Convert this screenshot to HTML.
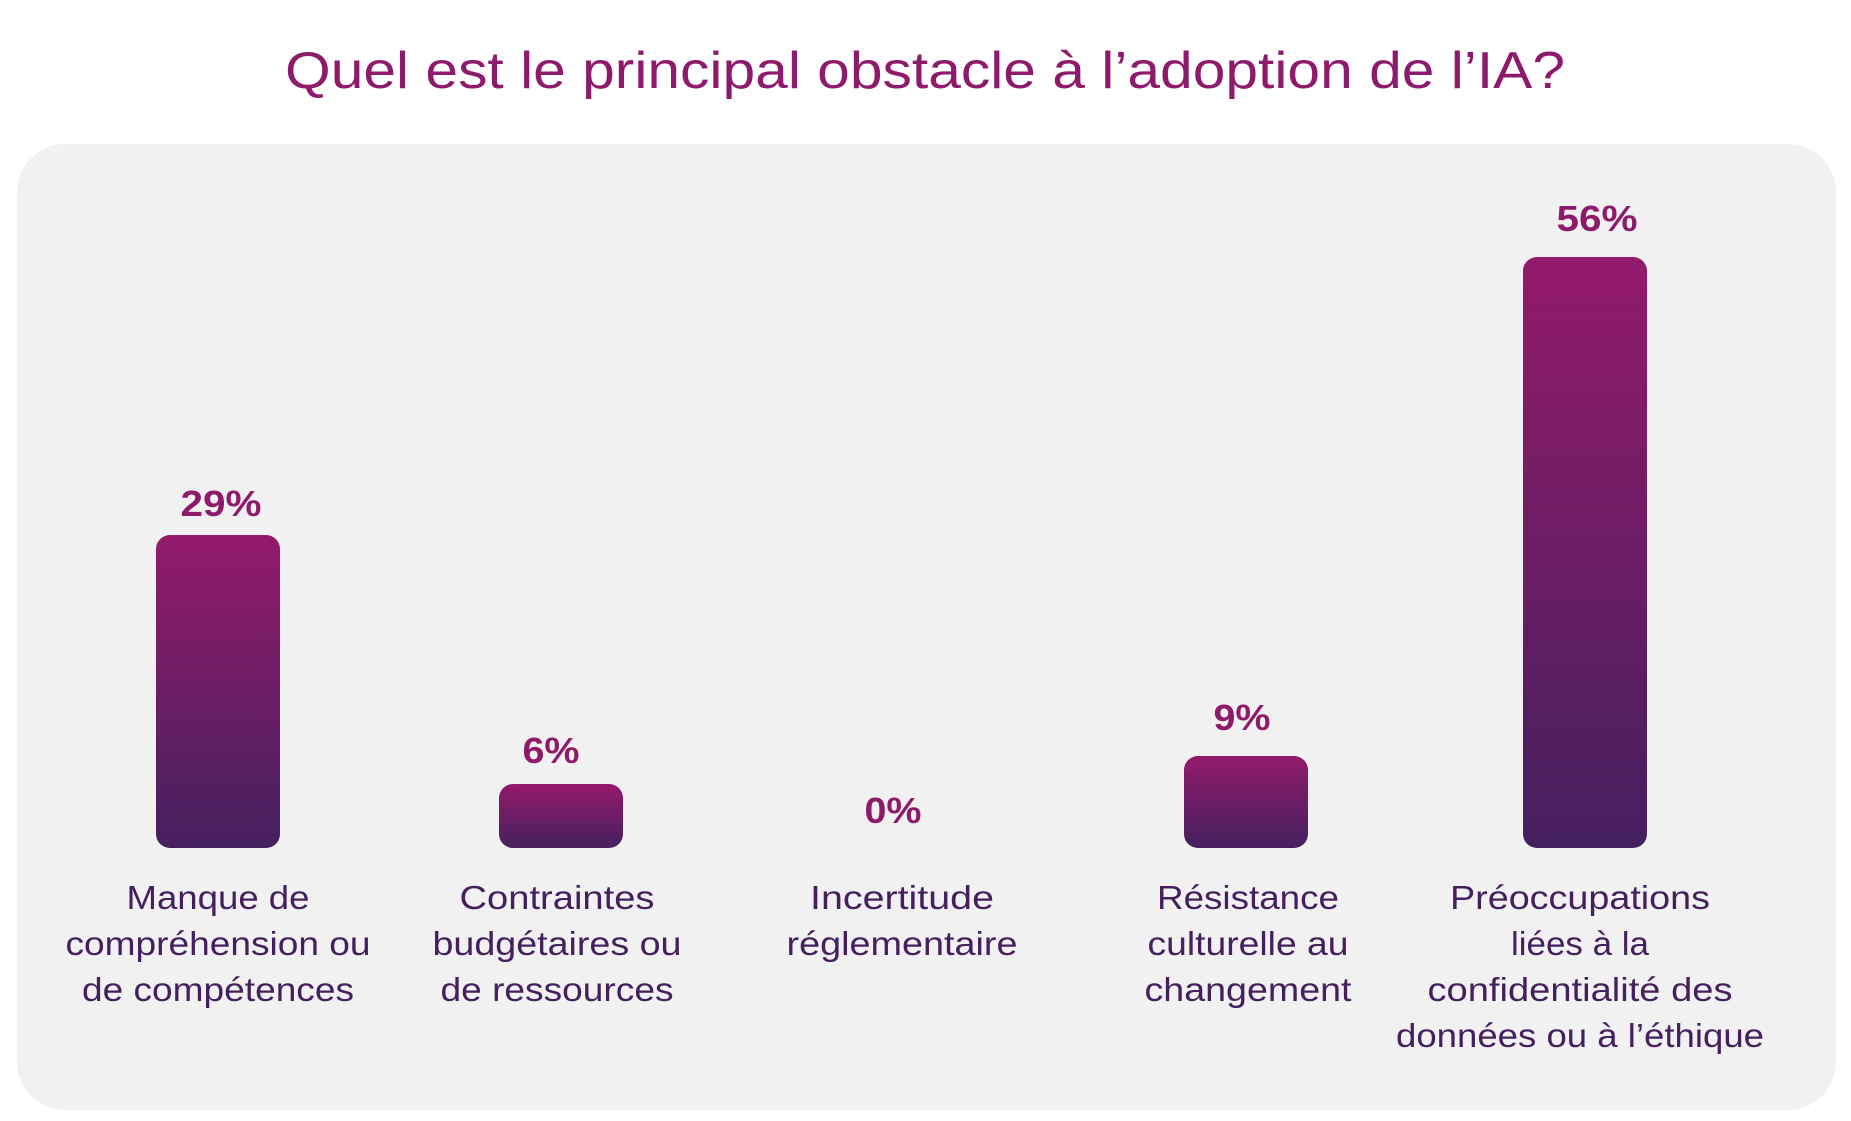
<!DOCTYPE html>
<html><head><meta charset="utf-8"><style>
html,body{margin:0;padding:0;background:#fff;}
svg{display:block;font-family:"Liberation Sans",sans-serif;}
</style></head><body>
<svg width="1851" height="1121" viewBox="0 0 1851 1121" xmlns="http://www.w3.org/2000/svg">
<defs>
<linearGradient id="g" x1="0" y1="0" x2="0" y2="1">
<stop offset="0" stop-color="#931a6c"/><stop offset="1" stop-color="#45205f"/>
</linearGradient>
</defs>
<text x="925" y="88" text-anchor="middle" font-size="52" fill="#8e1a6b" textLength="1280" lengthAdjust="spacingAndGlyphs">Quel est le principal obstacle à l’adoption de l’IA?</text>
<rect x="17" y="144" width="1819" height="966" rx="48" fill="#f1f1f1"/>
<rect x="156" y="535" width="124" height="313" rx="14" fill="url(#g)"/>
<rect x="499" y="784" width="124" height="64" rx="14" fill="url(#g)"/>
<rect x="1184" y="756" width="124" height="92" rx="14" fill="url(#g)"/>
<rect x="1523" y="257" width="124" height="591" rx="14" fill="url(#g)"/>
<g font-size="36" font-weight="bold" fill="#8e1a6b" text-anchor="middle">
<text x="221" y="516" textLength="81" lengthAdjust="spacingAndGlyphs">29%</text>
<text x="551" y="763" textLength="57" lengthAdjust="spacingAndGlyphs">6%</text>
<text x="893" y="823" textLength="57" lengthAdjust="spacingAndGlyphs">0%</text>
<text x="1242" y="730" textLength="57" lengthAdjust="spacingAndGlyphs">9%</text>
<text x="1597" y="231" textLength="81" lengthAdjust="spacingAndGlyphs">56%</text>
</g>
<g font-size="33" fill="#45205e" text-anchor="middle" lengthAdjust="spacingAndGlyphs">
<text x="218" y="909" textLength="183" lengthAdjust="spacingAndGlyphs">Manque de</text>
<text x="218" y="955" textLength="305" lengthAdjust="spacingAndGlyphs">compréhension ou</text>
<text x="218" y="1001" textLength="272" lengthAdjust="spacingAndGlyphs">de compétences</text>
<text x="557" y="909" textLength="195" lengthAdjust="spacingAndGlyphs">Contraintes</text>
<text x="557" y="955" textLength="249" lengthAdjust="spacingAndGlyphs">budgétaires ou</text>
<text x="557" y="1001" textLength="233" lengthAdjust="spacingAndGlyphs">de ressources</text>
<text x="902" y="909" textLength="184" lengthAdjust="spacingAndGlyphs">Incertitude</text>
<text x="902" y="955" textLength="231" lengthAdjust="spacingAndGlyphs">réglementaire</text>
<text x="1248" y="909" textLength="182" lengthAdjust="spacingAndGlyphs">Résistance</text>
<text x="1248" y="955" textLength="201" lengthAdjust="spacingAndGlyphs">culturelle au</text>
<text x="1248" y="1001" textLength="207" lengthAdjust="spacingAndGlyphs">changement</text>
<text x="1580" y="909" textLength="260" lengthAdjust="spacingAndGlyphs">Préoccupations</text>
<text x="1580" y="955" textLength="138" lengthAdjust="spacingAndGlyphs">liées à la</text>
<text x="1580" y="1001" textLength="305" lengthAdjust="spacingAndGlyphs">confidentialité des</text>
<text x="1580" y="1047" textLength="368" lengthAdjust="spacingAndGlyphs">données ou à l’éthique</text>
</g>
</svg>
</body></html>
